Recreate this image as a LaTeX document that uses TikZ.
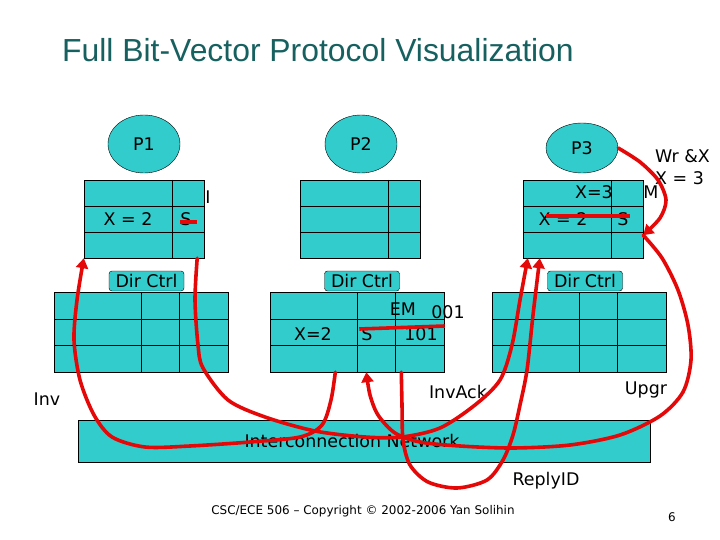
\documentclass[tikz,border=0pt]{standalone}
\usepackage{fontspec}
\setmainfont{DejaVu Sans}
\newfontfamily\titlefont{Liberation Sans}
\usetikzlibrary{shapes.geometric,arrows.meta,calc,positioning}
\definecolor{cteal}{RGB}{51,204,204}
\definecolor{ctitle}{RGB}{22,96,96}
\definecolor{cmsg}{RGB}{228,8,8}
\tikzset{
  slide/.style={x=1bp,y=-1bp,font=\fontsize{17.5}{20}\selectfont,every node/.append style={inner sep=0pt}},
  proc/.style={ellipse,draw,fill=cteal,minimum width=72bp,minimum height=58bp},
  cachebox/.style={draw,fill=cteal,minimum width=120bp,minimum height=78bp},
  dirbox/.style={draw,fill=cteal,minimum width=174bp,minimum height=80bp},
  ctrltag/.style={draw,fill=cteal,rounded corners=3bp,minimum width=75bp,minimum height=20bp},
  msg/.style={cmsg,line width=3.6bp,line cap=round},
  msgarrow/.style={msg,-{Triangle[length=10bp,width=12bp]}},
}

\begin{document}
\begin{tikzpicture}[slide]
    \useasboundingbox (0,0) rectangle (720,540);
    \node[font=\titlefont\fontsize{32}{36}\selectfont,text=ctitle,anchor=base west] (title) at (62,62) {Full Bit-Vector Protocol Visualization};
    % processors and caches
    \node[proc] (p1) at (144,144) {P1};
    \node[proc] (p2) at (361,144) {P2};
    \node[proc,minimum height=50bp] (p3) at (582,148) {P3};
    \node[cachebox] (c1) at (144,219) {};
    \node[cachebox] (c2) at (360,219) {};
    \node[cachebox] (c3) at (583,219) {};
    \foreach \c in {c1,c2,c3} {
      \draw ($(\c.north west)+(0,26)$) -- ($(\c.north east)+(0,26)$);
      \draw ($(\c.north west)+(0,52)$) -- ($(\c.north east)+(0,52)$);
      \draw ($(\c.north west)+(88,0)$) -- ($(\c.south west)+(88,0)$);
    }
    % directories
    \node[dirbox] (d1) at (141,332) {};
    \node[dirbox] (d2) at (357.5,332) {};
    \node[dirbox] (d3) at (579,332) {};
    \foreach \d in {d1,d2,d3} {
      \draw ($(\d.north west)+(0,27)$) -- ($(\d.north east)+(0,27)$);
      \draw ($(\d.north west)+(0,53)$) -- ($(\d.north east)+(0,53)$);
      \draw ($(\d.north west)+(87,0)$) -- ($(\d.south west)+(87,0)$);
      \draw ($(\d.north west)+(125,0)$) -- ($(\d.south west)+(125,0)$);
    }
    \node[ctrltag] (dc1) at (146.5,281) {Dir Ctrl};
    \node[ctrltag] (dc2) at (362,281) {Dir Ctrl};
    \node[ctrltag] (dc3) at (585,281) {Dir Ctrl};
    \node[draw,fill=cteal,minimum width=572bp,minimum height=42bp] (net) at (364,441) {};
    \node (nettxt) at (352,441) {Interconnection Network};
    % cache and directory contents
    \node (x1) at (128,219) {X = 2};
    \node (s1) at (186,219) {S};
    \node (i1) at (208,197) {I};
    \node (x3a) at (594,192) {X=3};
    \node (m3) at (651,192) {M};
    \node (x3b) at (563,219) {X = 2};
    \node (s3) at (623,219) {S};
    \node (em2) at (403,309) {EM};
    \node (b2a) at (448,312) {001};
    \node (x2) at (313,334) {X=2};
    \node (s2) at (367,334) {S};
    \node (b2b) at (421,334) {101};
    \node[anchor=west] (wr) at (655,156) {Wr \&X};
    \node[anchor=west] (wrv) at (655,178) {X = 3};
    % message labels
    \node (inv) at (47,399) {Inv};
    \node (ack) at (458,392) {InvAck};
    \node[anchor=base] (upg) at (646,394) {Upgr};
    \node[anchor=base] (rid) at (546,485) {ReplyID};
    \node[font=\fontsize{12}{14}\selectfont] (foot) at (363,511) {CSC/ECE 506 -- Copyright \textcopyright\ 2002-2006 Yan Solihin};
    \node[font=\fontsize{12}{14}\selectfont] (pg) at (672,517) {6};
    % message end points
    \coordinate (inv0) at ($(d2.south west)+(65,0)$);
    \coordinate (ack0) at ($(c1.south east)+(-7,0)$);
    \coordinate (ack1) at ($(c3.south west)+(5,0)$);
    \coordinate (upg0) at ($(c3.south east)+(0,-23)$);
    \coordinate (upg1) at ($(d2.south west)+(96,0)$);
    \coordinate (rid0) at ($(d2.south west)+(131,0)$);
    \coordinate (rid1) at ($(c3.south west)+(17,0)$);
    % messages
    \draw[msgarrow] plot[smooth] coordinates {(p3.east) (640,162) (658,180) (666,200) (660,218) (upg0)};
    \draw[msgarrow] plot[smooth] coordinates {(upg0) (662,258) (678,290) (688,325) (691,360) (683,392) (660,416) (620,435) (570,445) (513,448) (460,446) (420,442) (395,433) (378,415) (370,395) (upg1)};
    \draw[msgarrow] plot[smooth] coordinates {(rid0) (402,405) (403,440) (410,465) (428,482) (457,488) (487,480) (503,460) (513,435) (520,405) (527,370) (533,315) (rid1)};
    \draw[msgarrow] plot[smooth] coordinates {(inv0) (331,400) (322,425) (300,437) (250,442) (190,446) (145,447) (112,437) (94,415) (80,380) (74,340) (77,300) (c1.south west)};
    \draw[msgarrow] plot[smooth] coordinates {(ack0) (195,300) (198,345) (203,368) (228,400) (265,417) (315,431) (365,437) (402,437) (440,428) (475,405) (500,380) (512,345) (520,300) (ack1)};
    % strike-outs
    \draw[msg,line cap=butt] ($(s1.west)+(0,3)$) -- ($(s1.east)+(5.5,3)$);
    \draw[msg,line cap=butt] ($(x3b.west)+(8,-3)$) -- ($(s3.east)+(1,-3)$);
    \draw[msg,line cap=butt] ($(s2.west)+(-2,-5)$) -- ($(d2.east)+(0,-6)$);
\end{tikzpicture}
\end{document}
